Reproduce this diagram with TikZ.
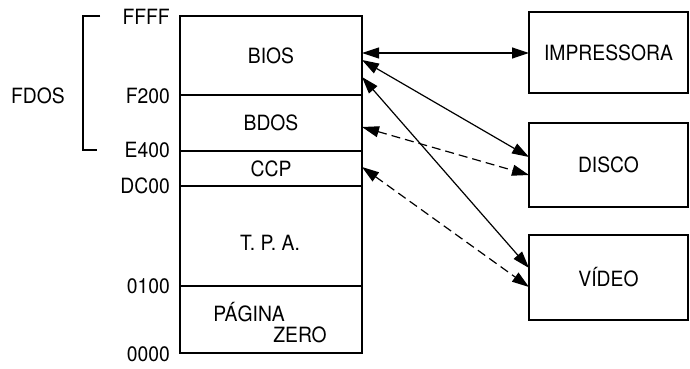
\documentclass[tikz,border=0pt]{standalone}
\usepackage{fontspec}
\setmainfont{TeX Gyre Heros}[FakeStretch=0.92]
\usetikzlibrary{arrows.meta}
\begin{document}
\begin{tikzpicture}[x=1pt,y=-1pt,
  box/.style={draw, line width=2pt, inner sep=0pt, font=\fontsize{21}{24}\selectfont},
  seg/.style={box, minimum width=182pt},
  dev/.style={box, minimum width=159pt},
  lbl/.style={font=\fontsize{21}{24}\selectfont, inner sep=0pt},
  addr/.style={lbl, anchor=east},
  link/.style={line width=1.2pt, {Triangle[length=17pt,width=11pt]}-{Triangle[length=17pt,width=11pt]}},
  dlink/.style={link, dash pattern=on 9pt off 5pt}]
\useasboundingbox (0,0) rectangle (690,369);
% memory map
\node[seg, minimum height=79pt] (bios) at (271,55.5) {BIOS};
\node[seg, minimum height=56pt] (bdos) at (271,123) {BDOS};
\node[seg, minimum height=35pt] (ccp) at (271,168.5) {CCP};
\node[seg, minimum height=100pt] (tpa) at (271,236) {};
\node[seg, minimum height=67pt] (zero) at (271,319.5) {};
\node[lbl] (tpatxt) at (270,243) {T. P. A.};
\node[lbl] (pag) at (249,312) {PÁGINA};
\node[lbl] (zer) at (300,335) {ZERO};
% addresses
\node[addr] (aFFFF) at (170,17) {FFFF};
\node[addr] (aF200) at (170,96) {F200};
\node[addr] (aE400) at (170,150) {E400};
\node[addr] (aDC00) at (170,186) {DC00};
\node[addr] (a0100) at (170,286) {0100};
\node[addr] (a0000) at (170,354) {0000};
\node[lbl] (fdos) at (38,96) {FDOS};
\draw[line width=1.8pt] (100,16) -- (83,16) -- (83,150) -- (97,150);
% devices
\node[dev, minimum height=81pt] (imp) at (608.5,52.5) {IMPRESSORA};
\node[dev, minimum height=84pt] (disco) at (608.5,165) {DISCO};
\node[dev, minimum height=85pt] (video) at (608.5,277.5) {VÍDEO};
% connection points
\coordinate (m1) at (362,53);
\coordinate (m2) at (362,60);
\coordinate (m3) at (362,77);
\coordinate (m4) at (362,127);
\coordinate (m5) at (362,167);
\coordinate (d1) at (529,53);
\coordinate (d2) at (529,157);
\coordinate (d3) at (529,268);
\coordinate (d4) at (529,175);
\coordinate (d5) at (529,287);
\draw[link] (m1) -- (d1);
\draw[link] (m2) -- (d2);
\draw[link] (m3) -- (d3);
\draw[dlink] (m4) -- (d4);
\draw[dlink] (m5) -- (d5);
\end{tikzpicture}
\end{document}
